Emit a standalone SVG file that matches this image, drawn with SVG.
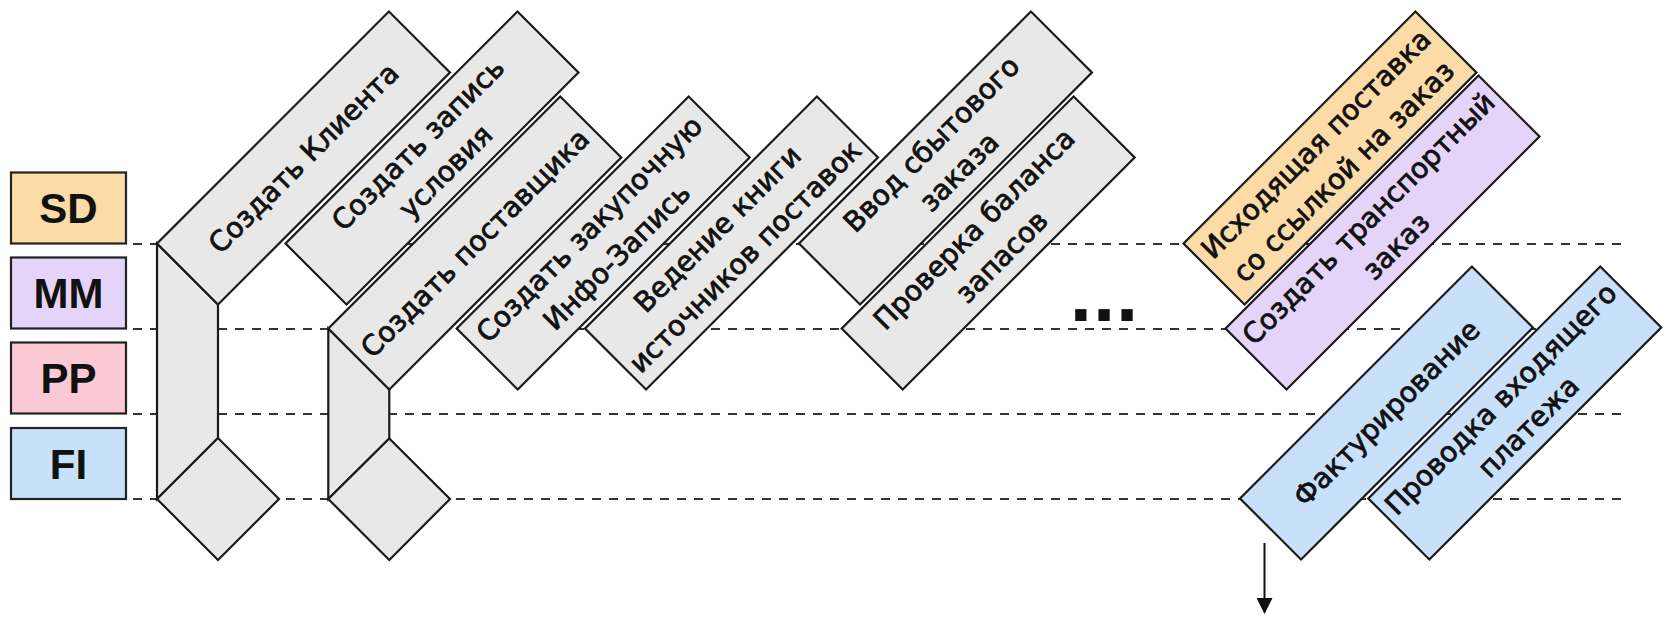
<svg xmlns="http://www.w3.org/2000/svg" width="1667" height="630" viewBox="0 0 1667 630">
<style>
.lane{stroke:#333;stroke-width:2;stroke-dasharray:9 8;fill:none}
.leg{stroke:#222;stroke-width:2.2}
.legt{font-family:"Liberation Sans",Arial,sans-serif;font-weight:bold;font-size:42px;text-anchor:middle;fill:#111}
.box{stroke:#1a1a1a;stroke-width:2.2;fill:#e8e8e8}
.sd{fill:#fbdba7}
.mm{fill:#e4d4f9}
.pp{fill:#fbc8d5}
.fi{fill:#c8e0fa}
.bt{font-family:"DejaVu Sans",Verdana,sans-serif;font-size:28px;text-anchor:middle;fill:#111;stroke:#111;stroke-width:0.8}
.conn{stroke:#1a1a1a;stroke-width:2.2;fill:#e8e8e8;stroke-linejoin:miter}
</style>
<defs>
<marker id="ah" markerWidth="8" markerHeight="8" refX="7" refY="4" orient="auto" markerUnits="strokeWidth">
<path d="M0,0 L8,4 L0,8 Z" fill="#111"/>
</marker>
</defs>
<rect width="1667" height="630" fill="#fff"/>
<g id="lanes">
<line class="lane" x1="133" y1="244" x2="1625" y2="244"/>
<line class="lane" x1="133" y1="329" x2="1625" y2="329"/>
<line class="lane" x1="133" y1="414" x2="1625" y2="414"/>
<line class="lane" x1="133" y1="499" x2="1625" y2="499"/>
</g>
<g id="legend-SD"><rect class="leg sd" x="11" y="172.5" width="115" height="71"/><text class="legt" x="68.5" y="223">SD</text></g>
<g id="legend-MM"><rect class="leg mm" x="11" y="257.5" width="115" height="71"/><text class="legt" x="68.5" y="308">MM</text></g>
<g id="legend-PP"><rect class="leg pp" x="11" y="342.5" width="115" height="71"/><text class="legt" x="68.5" y="393">PP</text></g>
<g id="legend-FI"><rect class="leg fi" x="11" y="428" width="115" height="71"/><text class="legt" x="68.5" y="478.5">FI</text></g>
<g id="connectors">
<polygon class="conn" points="157,243.5 218,304.5 218,438 157,499"/>
<polygon class="conn" points="157,499 218,438 279,499 218,560"/>
<polygon class="conn" points="328.3,328.5 389.3,389.5 389.3,438.5 328.3,499"/>
<polygon class="conn" points="328.3,499 389.3,438.5 450,499 389.3,560"/>
<line x1="1264.5" y1="543" x2="1264.5" y2="612" stroke="#111" stroke-width="2" marker-end="url(#ah)"/>
</g>
<g id="n1" transform="translate(157,243.5) rotate(-45)"><rect class="box" width="328" height="86.3"/><text class="bt" x="164" y="53">Создать Клиента</text></g>
<g id="n2" transform="translate(285.5,243.5) rotate(-45)"><rect class="box" width="328" height="86.3"/><text class="bt" x="164" y="33">Создать запись</text><text class="bt" x="164" y="72">условия</text></g>
<g id="n3" transform="translate(328.3,328.5) rotate(-45)"><rect class="box" width="328" height="86.3"/><text class="bt" x="164" y="53">Создать поставщика</text></g>
<g id="n4" transform="translate(456.7,328.5) rotate(-45)"><rect class="box" width="328" height="86.3"/><text class="bt" x="164" y="33">Создать закупочную</text><text class="bt" x="164" y="72">Инфо-Запись</text></g>
<g id="n5" transform="translate(585,328.5) rotate(-45)"><rect class="box" width="328" height="86.3"/><text class="bt" x="164" y="33">Ведение книги</text><text class="bt" x="164" y="72">источников поставок</text></g>
<g id="n6" transform="translate(799,243.5) rotate(-45)"><rect class="box" width="328" height="86.3"/><text class="bt" x="164" y="33">Ввод сбытового</text><text class="bt" x="164" y="72">заказа</text></g>
<g id="n7" transform="translate(841.7,328.5) rotate(-45)"><rect class="box" width="328" height="86.3"/><text class="bt" x="164" y="33">Проверка баланса</text><text class="bt" x="164" y="72">запасов</text></g>
<g id="dots"><text x="1104.5" y="321" font-family="Liberation Sans, Arial, sans-serif" font-weight="bold" font-size="80" text-anchor="middle" letter-spacing="1" fill="#111">...</text></g>
<g id="n8" transform="translate(1183.5,243.5) rotate(-45)"><rect class="box sd" width="328" height="86.3"/><text class="bt" x="164" y="33">Исходящая поставка</text><text class="bt" x="164" y="72">со ссылкой на заказ</text></g>
<g id="n9" transform="translate(1225.5,328.5) rotate(-45)"><rect class="box mm" width="357.8" height="86.3"/><text class="bt" x="178.9" y="33">Создать транспортный</text><text class="bt" x="178.9" y="72">заказ</text></g>
<g id="n10" transform="translate(1240,498.5) rotate(-45)"><rect class="box fi" width="328" height="86.3"/><text class="bt" x="164" y="53">Фактурирование</text></g>
<g id="n11" transform="translate(1368.3,498.5) rotate(-45)"><rect class="box fi" width="328" height="86.3"/><text class="bt" x="164" y="33">Проводка входящего</text><text class="bt" x="164" y="72">платежа</text></g>
</svg>
